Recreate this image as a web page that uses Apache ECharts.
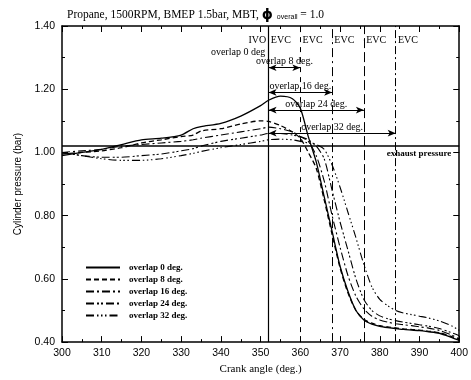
<!DOCTYPE html>
<html>
<head>
<meta charset="utf-8">
<script src="https://cdn.jsdelivr.net/npm/echarts@6/dist/echarts.min.js"></script>
<style>html,body{margin:0;padding:0;background:#fff}#c{width:471px;height:380px}</style>
</head>
<body>
<div id="c"></div>
<script>
// ---- data ----
const angles = [300,305,310,315,320,325,330,333,335,340,345,350,352,355,358,360,362,364,366,368,370,372,374,376,378,380,382,384,386,388,390,392,395,398,400];
const overlap0  = [0.99,1.0,1.01,1.025,1.04,1.045,1.055,1.075,1.082,1.092,1.115,1.148,1.165,1.178,1.17,1.14,1.05,0.97,0.86,0.75,0.64,0.56,0.5,0.47,0.457,0.45,0.446,0.443,0.44,0.438,0.436,0.433,0.428,0.415,0.405];
const overlap8  = [0.995,1.0,1.005,1.015,1.03,1.04,1.05,1.055,1.068,1.075,1.09,1.1,1.098,1.085,1.065,1.045,1.0,0.95,0.85,0.74,0.635,0.555,0.5,0.472,0.46,0.452,0.448,0.445,0.442,0.44,0.438,0.435,0.43,0.418,0.408];
const overlap16 = [1.0,1.005,1.01,1.02,1.025,1.03,1.035,1.04,1.045,1.055,1.065,1.075,1.08,1.075,1.065,1.05,1.035,0.99,0.91,0.8,0.7,0.61,0.545,0.505,0.482,0.47,0.463,0.458,0.455,0.452,0.448,0.445,0.437,0.423,0.41];
const overlap24 = [1.0,0.99,0.985,0.985,0.99,0.995,1.005,1.012,1.02,1.035,1.045,1.055,1.06,1.06,1.055,1.05,1.04,1.02,0.98,0.88,0.78,0.69,0.6,0.535,0.5,0.483,0.474,0.468,0.463,0.459,0.455,0.451,0.443,0.43,0.42];
const overlap32 = [1.0,0.99,0.98,0.975,0.975,0.98,0.99,0.997,1.003,1.015,1.025,1.035,1.04,1.042,1.04,1.035,1.03,1.025,1.01,0.96,0.89,0.81,0.73,0.645,0.575,0.535,0.515,0.5,0.492,0.487,0.482,0.477,0.467,0.452,0.437];
const seriesNames = ['overlap 0 deg.','overlap 8 deg.','overlap 16 deg.','overlap 24 deg.','overlap 32 deg.'];
const ivoAngle = 352;
const evcAngles = [352,360,368,376,384];
const overlapDegs = [8,16,24,32];
const arrowLevels = [1.268,1.19,1.134,1.061];
const exhaustPressure = 1.02;
const xTicks = [300,310,320,330,340,350,360,370,380,390,400];
const yTicks = [0.40,0.60,0.80,1.00,1.20,1.40];

// ---- chart ----
const chart = echarts.init(document.getElementById('c'), null, {renderer:'canvas'});
const serif = '"Liberation Serif","DejaVu Serif",serif';
const sans = '"Liberation Sans",Arial,sans-serif';
const allSeries = [overlap0, overlap8, overlap16, overlap24, overlap32];
const dashes = ['solid',[5,3],[8,3,2,3],[8,3,2,2,2,3],[8,3,1.5,2.5,1.5,2.5,1.5,3]];
const widths = [1.3,1.3,1.1,1.1,1.1];

const series = allSeries.map((vals, i) => ({
  name: seriesNames[i],
  type: 'line',
  data: angles.map((a, k) => [a, vals[k]]),
  symbol: 'none',
  showSymbol: false,
  smooth: 0.25,
  lineStyle: {color:'#000', width: widths[i], type: dashes[i]},
  itemStyle: {color:'#000'},
  z: 3
}));

const evcStyles = ['solid',[5,5],[9,4,2,4],[10,4],[8,3,2,3]];
series[0].markLine = {
  silent: true,
  symbol: 'none',
  animation: false,
  label: {show:false},
  data: [
    ...evcAngles.map((a,i)=>({xAxis:a, lineStyle:{color:'#000', width: i===0?1.2:1, type: evcStyles[i]}})),
    {yAxis: exhaustPressure, lineStyle:{color:'#000', width:1.6, type:'solid'},
     label:{show:true, formatter:'exhaust pressure', position:'insideEndBottom', distance:[8,3],
            fontFamily:serif, fontWeight:'bold', fontSize:9, color:'#000'}},
    ...overlapDegs.map((d,i)=>[
      {coord:[ivoAngle, arrowLevels[i]], symbol:'arrow', symbolSize:[5,8],
       lineStyle:{color:'#000', width:1, type:'solid'},
       label:{show:true, formatter:'overlap '+d+' deg.', position:'insideMiddleTop', distance:1,
              fontFamily:serif, fontSize:10, color:'#000'}},
      {coord:[ivoAngle + d, arrowLevels[i]], symbol:'arrow', symbolSize:[5,8]}
    ])
  ]
};

// text labels (IVO / EVC / overlap 0 deg)
series.push({
  type:'scatter',
  silent:true,
  symbol:'circle',
  symbolSize:0.5,
  itemStyle:{color:'#000', opacity:1},
  data:[
    {value:[ivoAngle, 1.356], label:{formatter:'IVO', position:'left', distance:2}},
    ...evcAngles.map(a=>({value:[a, 1.356], label:{formatter:'EVC', position:'right', distance:2}})),
    {value:[ivoAngle, 1.318], label:{formatter:'overlap 0 deg', position:'left', distance:3}}
  ],
  label:{show:true, fontFamily:serif, fontSize:10, color:'#000', opacity:1},
  labelLayout:{hideOverlap:false},
  z:4
});

const axisCommon = {
  axisLine:{show:true, lineStyle:{color:'#000', width:1.5}},
  splitLine:{show:false}
};

chart.setOption({
  animation:false,
  backgroundColor:'#fff',
  title:{
    left:62, top:3,
    text:'{a|Propane, 1500RPM, BMEP 1.5bar, MBT, }{b|ϕ}{c|  overall}{a| = 1.0}',
    textStyle:{
      fontWeight:'normal',
      rich:{
        a:{fontFamily:serif, fontSize:11.5, fontWeight:'normal', color:'#000'},
        b:{fontFamily:'"DejaVu Sans",sans-serif', fontSize:14, fontWeight:'bold', color:'#000'},
        c:{fontFamily:sans, fontSize:7, fontWeight:'normal', color:'#000', padding:[4,0,0,0]}
      }
    }
  },
  legend:{
    orient:'vertical',
    left:80, top:258,
    itemWidth:34, itemHeight:8, itemGap:3,
    itemStyle:{opacity:0},
    data: seriesNames,
    textStyle:{fontFamily:serif, fontWeight:'bold', fontSize:9, color:'#000', padding:[0,0,0,4]}
  },
  grid:{left:62, right:8, top:26, bottom:35, containLabel:false},
  xAxis:[
    Object.assign({}, axisCommon, {
      type:'value', min:300, max:400, interval:10, position:'bottom',
      name:'Crank angle (deg.)', nameLocation:'middle', nameGap:20,
      nameTextStyle:{fontFamily:serif, fontSize:11, color:'#000'},
      axisTick:{show:true, inside:true, length:6, lineStyle:{color:'#000'}},
      minorTick:{show:true, splitNumber:2, length:3, lineStyle:{color:'#000'}},
      axisLabel:{fontFamily:sans, fontSize:10.5, color:'#000', margin:6,
        formatter: v => String(v)}
    }),
    Object.assign({}, axisCommon, {
      type:'value', min:300, max:400, interval:10, position:'top',
      axisTick:{show:true, inside:true, length:6, lineStyle:{color:'#000'}},
      minorTick:{show:true, splitNumber:2, length:3, lineStyle:{color:'#000'}},
      axisLabel:{show:false}
    })
  ],
  yAxis:[
    Object.assign({}, axisCommon, {
      type:'value', min:0.4, max:1.4, interval:0.2, position:'left',
      name:'Cylinder pressure (bar)', nameLocation:'middle', nameGap:38,
      nameTextStyle:{fontFamily:sans, fontSize:10, color:'#000'},
      axisTick:{show:true, inside:true, length:6, lineStyle:{color:'#000'}},
      minorTick:{show:true, splitNumber:2, length:3, lineStyle:{color:'#000'}},
      axisLabel:{fontFamily:sans, fontSize:10.5, color:'#000', margin:7,
        formatter: v => v.toFixed(2)}
    }),
    Object.assign({}, axisCommon, {
      type:'value', min:0.4, max:1.4, interval:0.2, position:'right',
      axisTick:{show:true, inside:true, length:6, lineStyle:{color:'#000'}},
      minorTick:{show:true, splitNumber:2, length:3, lineStyle:{color:'#000'}},
      axisLabel:{show:false}
    })
  ],
  series: series
});
</script>
</body>
</html>
